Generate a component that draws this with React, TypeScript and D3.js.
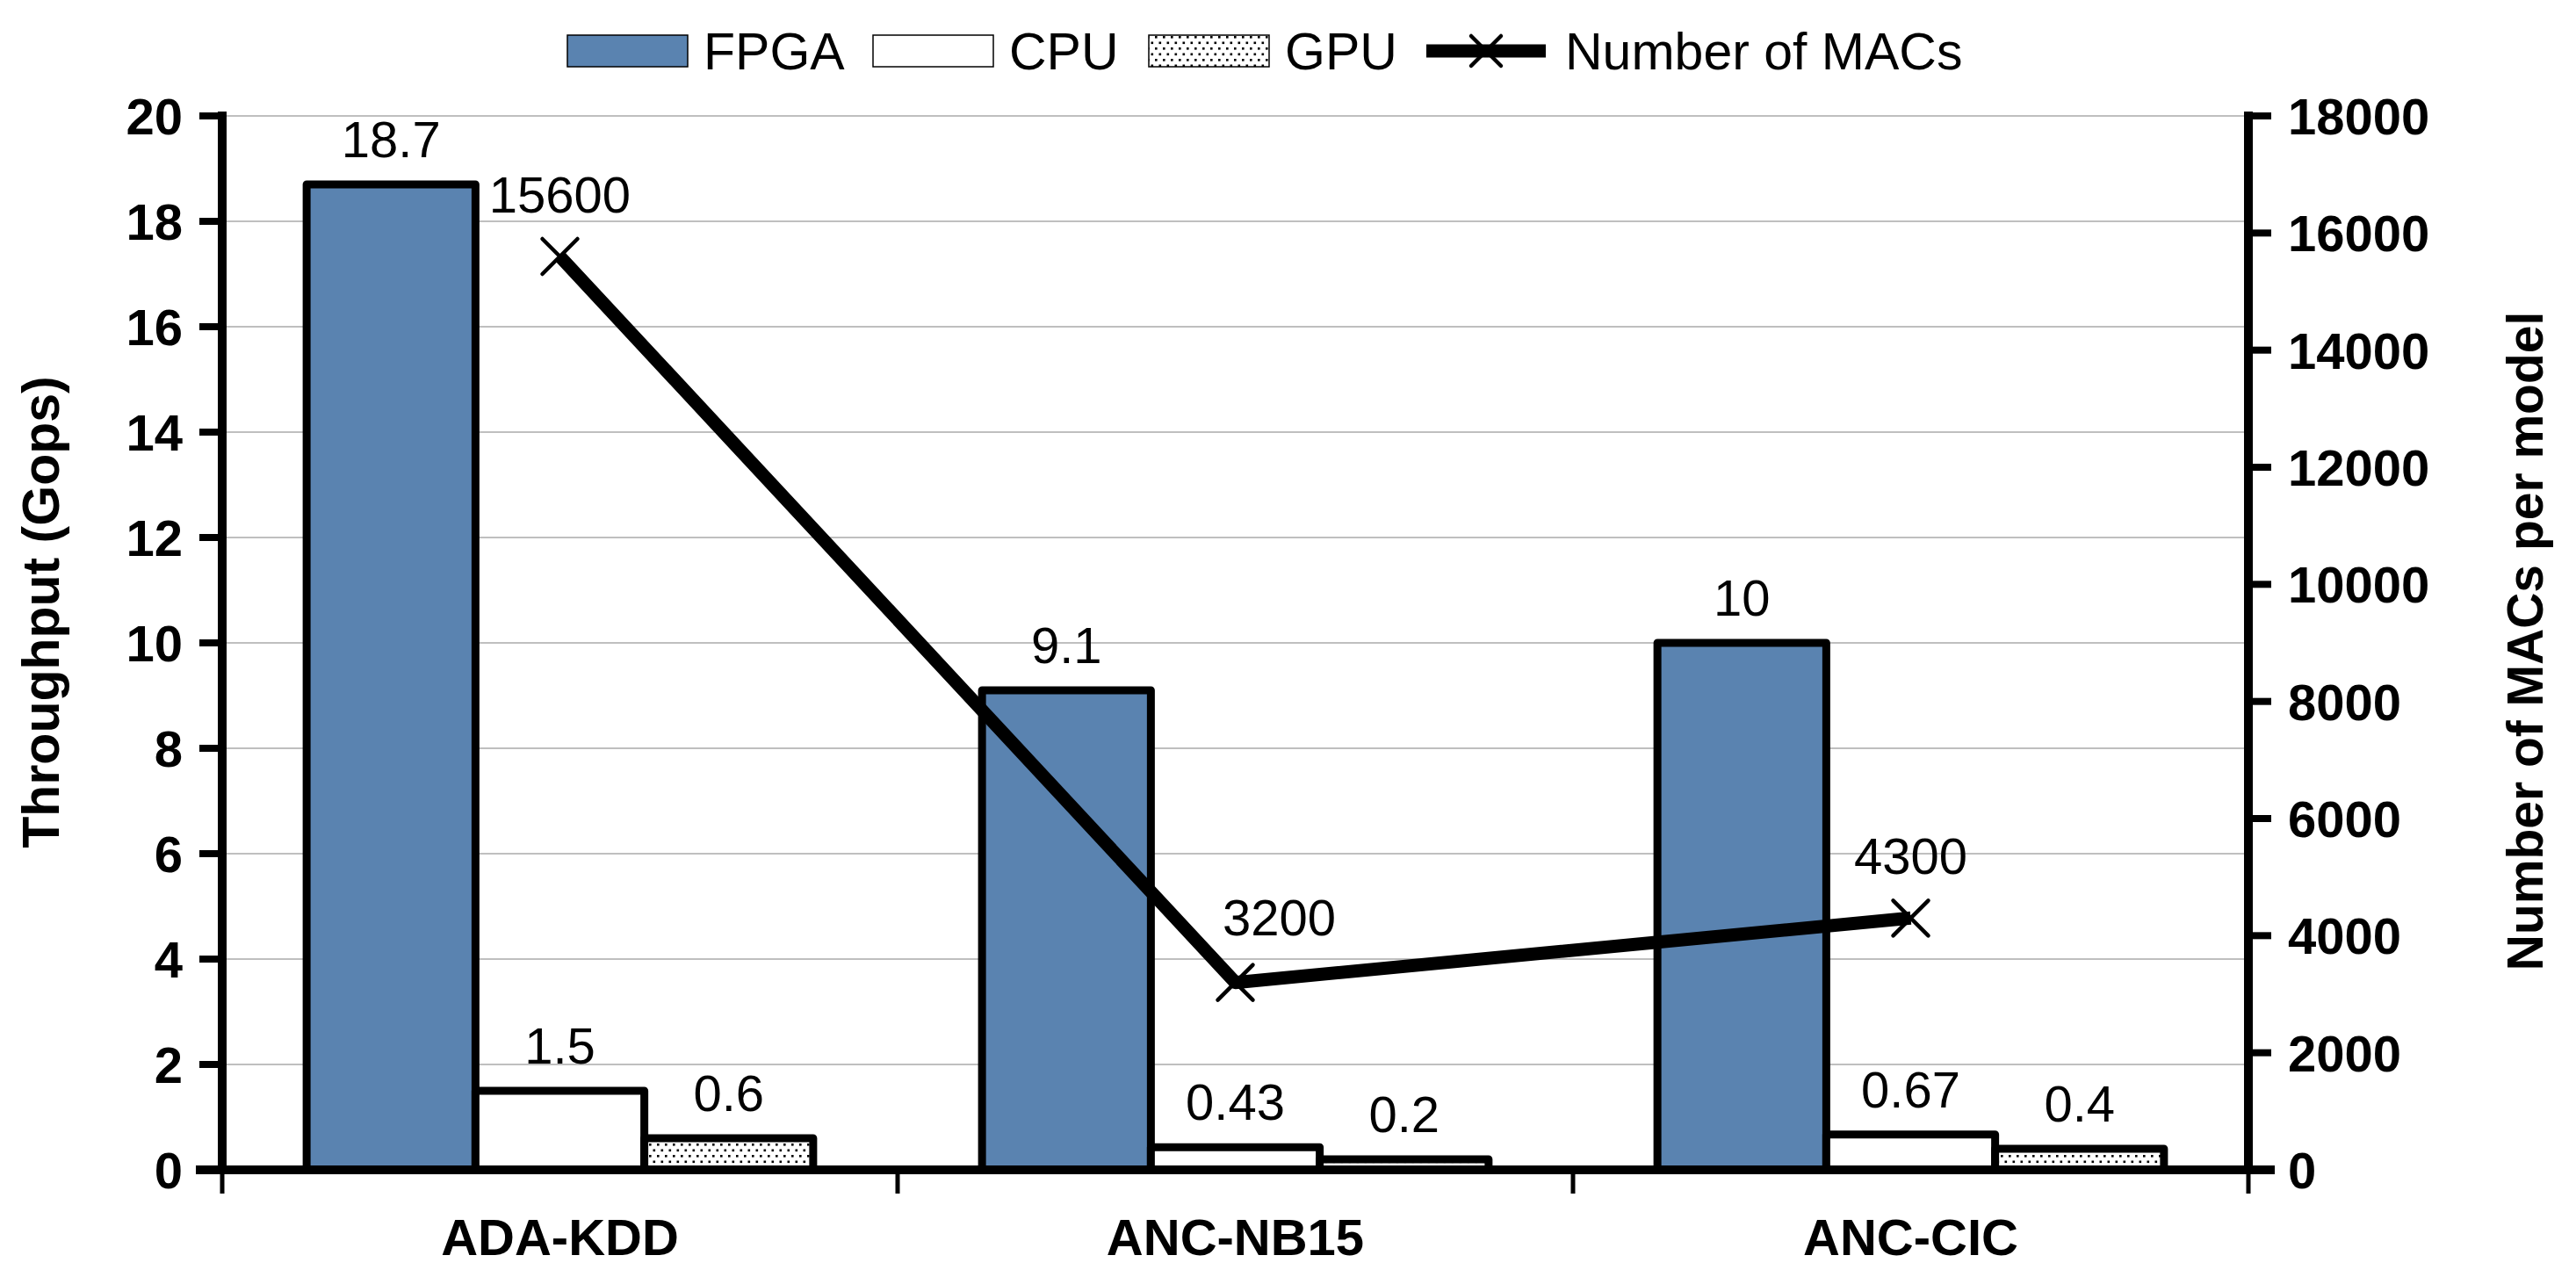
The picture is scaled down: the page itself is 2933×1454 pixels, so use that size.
import * as d3 from 'd3';
import { useEffect, useRef } from 'react';

const categories = ['ADA-KDD', 'ANC-NB15', 'ANC-CIC'];
const seriesNames = ['FPGA', 'CPU', 'GPU'];
const fpgaValues = [18.7, 9.1, 10];
const cpuValues = [1.5, 0.43, 0.67];
const gpuValues = [0.6, 0.2, 0.4];
const macValues = [15600, 3200, 4300];
const leftTicks = [0, 2, 4, 6, 8, 10, 12, 14, 16, 18, 20];
const rightTicks = [0, 2000, 4000, 6000, 8000, 10000, 12000, 14000, 16000, 18000];

const FONT = '"Liberation Sans", Arial, sans-serif';
const BLUE = '#5a83b0';

export default function App() {
  const w = 2933;
  const h = 1454;
  const svgRef = useRef<SVGSVGElement>(null);

  useEffect(() => {
    document.body.style.margin = '0';
    if (svgRef.current == null) {
      return;
    }
    const svg = d3.select(svgRef.current);
    svg.selectAll('*').remove();

    const left = 253;
    const right = 2560;
    const top = 132;
    const bottom = 1332;

    const x = d3.scaleBand().domain(categories).range([left, right]);
    const xInner = d3
      .scaleBand()
      .domain(seriesNames)
      .range([0, x.bandwidth()])
      .paddingInner(0)
      .paddingOuter(0.5);
    const yLeft = d3.scaleLinear().domain([0, 20]).range([bottom, top]);
    const yRight = d3.scaleLinear().domain([0, 18000]).range([bottom, top]);

    // pattern for GPU bars
    const defs = svg.append('defs');
    const pat = defs
      .append('pattern')
      .attr('id', 'dots')
      .attr('patternUnits', 'userSpaceOnUse')
      .attr('width', 9)
      .attr('height', 13);
    pat.append('rect').attr('width', 9).attr('height', 13).attr('fill', 'white');
    pat.append('rect').attr('x', 1).attr('y', 2).attr('width', 2.6).attr('height', 2.6).attr('fill', 'black');
    pat.append('rect').attr('x', 5.5).attr('y', 8.5).attr('width', 2.6).attr('height', 2.6).attr('fill', 'black');

    // gridlines
    svg
      .append('g')
      .selectAll('line')
      .data(leftTicks.filter((t) => t > 0))
      .join('line')
      .attr('x1', left)
      .attr('x2', right)
      .attr('y1', (d) => yLeft(d))
      .attr('y2', (d) => yLeft(d))
      .attr('stroke', '#bfbfbf')
      .attr('stroke-width', 2);

    // bars
    const series = [
      { name: 'FPGA', values: fpgaValues, fill: BLUE },
      { name: 'CPU', values: cpuValues, fill: 'white' },
      { name: 'GPU', values: gpuValues, fill: 'url(#dots)' },
    ];
    for (const s of series) {
      categories.forEach((c, i) => {
        const x0 = (x(c) ?? 0) + (xInner(s.name) ?? 0);
        const v = s.values[i];
        svg
          .append('rect')
          .attr('x', x0)
          .attr('y', yLeft(v))
          .attr('width', xInner.bandwidth())
          .attr('height', yLeft(0) - yLeft(v))
          .attr('fill', s.fill)
          .attr('stroke', 'black')
          .attr('stroke-width', 9)
          .attr('stroke-linejoin', 'round');
      });
    }

    // bar value labels
    for (const s of series) {
      categories.forEach((c, i) => {
        const cx = (x(c) ?? 0) + (xInner(s.name) ?? 0) + xInner.bandwidth() / 2;
        svg
          .append('text')
          .attr('x', cx)
          .attr('y', yLeft(s.values[i]) - 31)
          .attr('text-anchor', 'middle')
          .style('font-family', FONT)
          .style('font-size', '58px')
          .text(String(s.values[i]));
      });
    }

    // axes lines
    svg
      .append('line')
      .attr('x1', left - 30)
      .attr('x2', right + 30)
      .attr('y1', bottom)
      .attr('y2', bottom)
      .attr('stroke', 'black')
      .attr('stroke-width', 10);
    svg
      .append('line')
      .attr('x1', left)
      .attr('x2', left)
      .attr('y1', top - 5)
      .attr('y2', bottom)
      .attr('stroke', 'black')
      .attr('stroke-width', 10);
    svg
      .append('line')
      .attr('x1', right)
      .attr('x2', right)
      .attr('y1', top - 5)
      .attr('y2', bottom)
      .attr('stroke', 'black')
      .attr('stroke-width', 10);

    // category ticks
    const bounds = [left, ...categories.map((c) => (x(c) ?? 0) + x.bandwidth())];
    svg
      .append('g')
      .selectAll('line')
      .data(bounds)
      .join('line')
      .attr('x1', (d) => d)
      .attr('x2', (d) => d)
      .attr('y1', bottom)
      .attr('y2', bottom + 27)
      .attr('stroke', 'black')
      .attr('stroke-width', 5);

    // left ticks
    svg
      .append('g')
      .selectAll('line')
      .data(leftTicks)
      .join('line')
      .attr('x1', left - 26)
      .attr('x2', left)
      .attr('y1', (d) => yLeft(d))
      .attr('y2', (d) => yLeft(d))
      .attr('stroke', 'black')
      .attr('stroke-width', 8);
    svg
      .append('g')
      .selectAll('text')
      .data(leftTicks)
      .join('text')
      .attr('x', 208)
      .attr('y', (d) => yLeft(d))
      .attr('dy', '0.36em')
      .attr('text-anchor', 'end')
      .style('font-family', FONT)
      .style('font-weight', 'bold')
      .style('font-size', '58px')
      .text((d) => String(d));

    // right ticks
    svg
      .append('g')
      .selectAll('line')
      .data(rightTicks)
      .join('line')
      .attr('x1', right)
      .attr('x2', right + 26)
      .attr('y1', (d) => yRight(d))
      .attr('y2', (d) => yRight(d))
      .attr('stroke', 'black')
      .attr('stroke-width', 8);
    svg
      .append('g')
      .selectAll('text')
      .data(rightTicks)
      .join('text')
      .attr('x', 2605)
      .attr('y', (d) => yRight(d))
      .attr('dy', '0.36em')
      .attr('text-anchor', 'start')
      .style('font-family', FONT)
      .style('font-weight', 'bold')
      .style('font-size', '58px')
      .text((d) => String(d));

    // category labels
    svg
      .append('g')
      .selectAll('text')
      .data(categories)
      .join('text')
      .attr('x', (d) => (x(d) ?? 0) + x.bandwidth() / 2)
      .attr('y', 1429)
      .attr('text-anchor', 'middle')
      .style('font-family', FONT)
      .style('font-weight', 'bold')
      .style('font-size', '58px')
      .text((d) => d);

    // axis titles
    svg
      .append('text')
      .attr('transform', `translate(67, 697) rotate(-90)`)
      .attr('text-anchor', 'middle')
      .style('font-family', FONT)
      .style('font-weight', 'bold')
      .style('font-size', '59px')
      .text('Throughput (Gops)');
    svg
      .append('text')
      .attr('transform', `translate(2895, 730) rotate(-90)`)
      .attr('text-anchor', 'middle')
      .style('font-family', FONT)
      .style('font-weight', 'bold')
      .style('font-size', '57px')
      .text('Number of MACs per model');

    // MAC line
    const pts: [number, number][] = categories.map((c, i) => [
      (x(c) ?? 0) + x.bandwidth() / 2,
      yRight(macValues[i]),
    ]);
    const line = d3.line();
    svg
      .append('path')
      .attr('d', line(pts))
      .attr('fill', 'none')
      .attr('stroke', 'black')
      .attr('stroke-width', 15)
      .attr('stroke-linejoin', 'round');

    const cross = (cx: number, cy: number, r: number) =>
      `M${cx - r},${cy - r}L${cx + r},${cy + r}M${cx - r},${cy + r}L${cx + r},${cy - r}`;
    svg
      .append('g')
      .selectAll('path')
      .data(pts)
      .join('path')
      .attr('d', (d) => cross(d[0], d[1], 20))
      .attr('stroke', 'black')
      .attr('stroke-width', 4.5)
      .attr('stroke-linecap', 'round')
      .attr('fill', 'none');

    const labelDx = [0, 50, 0];
    svg
      .append('g')
      .selectAll('text')
      .data(pts)
      .join('text')
      .attr('x', (d, i) => d[0] + labelDx[i])
      .attr('y', (d, i) => d[1] - (i === 1 ? 54 : 50))
      .attr('text-anchor', 'middle')
      .style('font-family', FONT)
      .style('font-size', '58px')
      .text((d, i) => String(macValues[i]));

    // legend
    const ly = 58;
    const legendX = [646, 994, 1308];
    const legendFill = [BLUE, 'white', 'url(#dots)'];
    seriesNames.forEach((name, i) => {
      svg
        .append('rect')
        .attr('x', legendX[i])
        .attr('y', ly - 18)
        .attr('width', 137)
        .attr('height', 36)
        .attr('fill', legendFill[i])
        .attr('stroke', 'black')
        .attr('stroke-width', 1.5);
      svg
        .append('text')
        .attr('x', legendX[i] + 155)
        .attr('y', ly)
        .attr('dy', '0.36em')
        .style('font-family', FONT)
        .style('font-size', '59px')
        .text(name);
    });
    svg
      .append('line')
      .attr('x1', 1624)
      .attr('x2', 1760)
      .attr('y1', ly)
      .attr('y2', ly)
      .attr('stroke', 'black')
      .attr('stroke-width', 15);
    svg
      .append('path')
      .attr('d', cross(1692, ly, 17))
      .attr('stroke', 'black')
      .attr('stroke-width', 4.5)
      .attr('stroke-linecap', 'round');
    svg
      .append('text')
      .attr('x', 1782)
      .attr('y', ly)
      .attr('dy', '0.36em')
      .style('font-family', FONT)
      .style('font-size', '59px')
      .text('Number of MACs');
  }, []);

  return (
    <svg
      ref={svgRef}
      width={w}
      height={h}
      style={{ display: 'block', background: 'white' }}
    ></svg>
  );
}
